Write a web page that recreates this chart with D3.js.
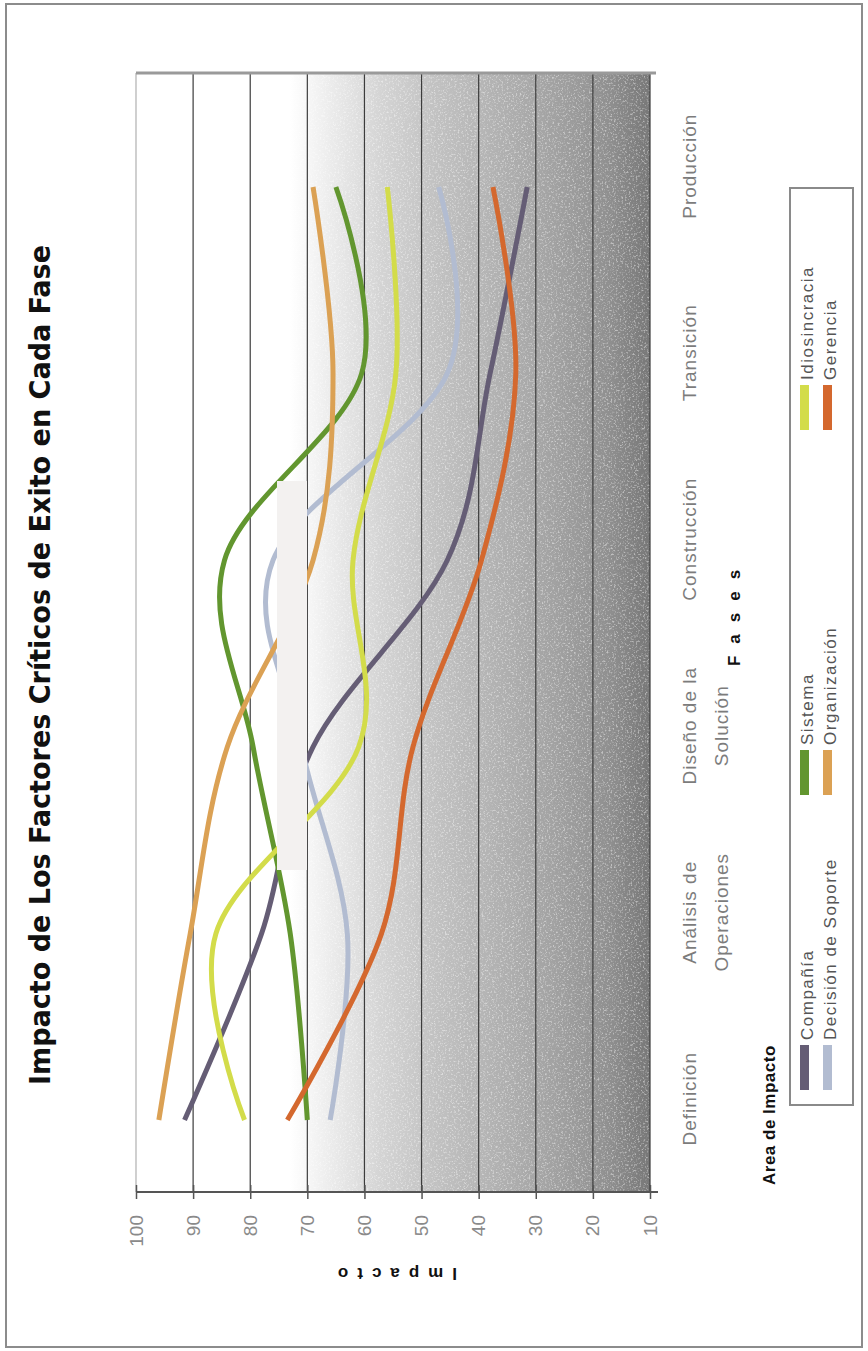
<!DOCTYPE html>
<html>
<head>
<meta charset="utf-8">
<script src="https://d3js.org/d3.v7.min.js"></script>
<style>
  body { margin: 0; background: #ffffff; }
  svg { display: block; font-family: "Liberation Sans", Arial, sans-serif; }
</style>
</head>
<body>
<script>
// ---- data ----
var categories = ["Definición", "Análisis de Operaciones", "Diseño de la Solución", "Construcción", "Transición", "Producción"];
var categoryLines = [["Definición"], ["Análisis de", "Operaciones"], ["Diseño de la", "Solución"], ["Construcción"], ["Transición"], ["Producción"]];
var seriesNames = ["Compañía", "Decisión de Soporte", "Sistema", "Organización", "Idiosincracia", "Gerencia"];
var compania      = [91.5, 78, 69, 45.5, 38, 31.5];
var decision      = [66, 63, 71, 76, 45.5, 47];
var sistema       = [70, 73, 79.5, 84.5, 60.5, 65];
var organizacion  = [96, 90.5, 84, 69, 65.5, 69];
var idiosincracia = [81, 86, 61, 62, 54.5, 56];
var gerencia      = [73.5, 57, 51.5, 39.5, 33.5, 37.5];
var impactTicks = [100, 90, 80, 70, 60, 50, 40, 30, 20, 10];
var seriesColors = ["#655d75", "#b2bcd1", "#62962f", "#dba154", "#d3dc4a", "#d4682e"];

var allSeries = [compania, decision, sistema, organizacion, idiosincracia, gerencia];

var W = 868, H = 1351;
var svg = d3.select("body").append("svg").attr("width", W).attr("height", H);

var defs = svg.append("defs");
var grad = defs.append("linearGradient").attr("id", "bg")
    .attr("gradientUnits", "userSpaceOnUse")
    .attr("x1", 0).attr("y1", 136).attr("x2", 0).attr("y2", 650);
[[0, "#ffffff"], [0.30, "#ffffff"], [0.377, "#ececec"], [0.475, "#d4d4d4"], [0.572, "#c3c3c3"],
 [0.689, "#b3b3b3"], [0.805, "#a3a3a3"], [0.922, "#8f8f8f"], [1, "#777777"]].forEach(function(s) {
  grad.append("stop").attr("offset", s[0]).attr("stop-color", s[1]);
});
var flt = defs.append("filter").attr("id", "speckle").attr("x", 0).attr("y", 0).attr("width", 1).attr("height", 1);
flt.append("feTurbulence").attr("type", "fractalNoise").attr("baseFrequency", 0.55).attr("numOctaves", 2).attr("seed", 7);
flt.append("feColorMatrix").attr("type", "matrix")
   .attr("values", "0 0 0 0 1  0 0 0 0 1  0 0 0 0 1  4 0 0 0 -2.1");

// outer frame
svg.append("rect").attr("x", 6).attr("y", 4).attr("width", 856).attr("height", 1343)
   .attr("fill", "none").attr("stroke", "#8c8c8c").attr("stroke-width", 2);

// the chart is laid out normally, then turned a quarter turn counter-clockwise
var g = svg.append("g").attr("transform", "translate(0," + H + ") rotate(-90)");

var plotLeft = 159, plotRight = 1278, plotTop = 136, plotBottom = 650;
var x = d3.scalePoint().domain(categories).range([231, 1164]);
var band = d3.scaleBand().domain(categories).range([plotLeft, plotRight]);
var y = d3.scaleLinear().domain([10, 100]).range([plotBottom, plotTop]);

// plot background
g.append("rect").attr("x", plotLeft).attr("y", plotTop)
 .attr("width", plotRight - plotLeft).attr("height", plotBottom - plotTop)
 .attr("fill", "url(#bg)");
g.append("rect").attr("x", plotLeft).attr("y", plotTop)
 .attr("width", plotRight - plotLeft).attr("height", plotBottom - plotTop)
 .attr("filter", "url(#speckle)").attr("opacity", 0.45);

// gridlines
g.selectAll("line.grid").data(impactTicks).enter().append("line")
 .attr("class", "grid")
 .attr("x1", plotLeft).attr("x2", plotRight)
 .attr("y1", function(d) { return y(d); }).attr("y2", function(d) { return y(d); })
 .attr("stroke", function(d) { return d === 100 ? "#b0b0b0" : "#3c3c3c"; })
 .attr("stroke-width", 1.2);

// top border of plot
g.append("line").attr("x1", plotRight).attr("x2", plotRight)
 .attr("y1", plotTop).attr("y2", plotBottom + 6)
 .attr("stroke", "#9a9a9a").attr("stroke-width", 3);

// series
var line = d3.line()
  .x(function(d, i) { return x(categories[i]); })
  .y(function(d) { return y(d); })
  .curve(d3.curveCardinal.tension(0));

g.selectAll("path.series").data(allSeries).enter().append("path")
 .attr("class", "series")
 .attr("d", line)
 .attr("fill", "none")
 .attr("stroke", function(d, i) { return seriesColors[i]; })
 .attr("stroke-width", 5)
 .attr("stroke-linecap", "butt");

// value axis
var yAxis = g.append("g").attr("transform", "translate(" + plotLeft + ",0)")
  .call(d3.axisLeft(y).tickValues(impactTicks).tickSize(7).tickPadding(16));
yAxis.select(".domain").remove();
yAxis.selectAll(".tick line").attr("x1", 7).attr("x2", -7).attr("stroke", "#555").attr("stroke-width", 1.5);
yAxis.selectAll(".tick text")
  .attr("font-family", "'Liberation Sans', Arial, sans-serif")
  .attr("font-size", 19).attr("fill", "#8a8a8a");
g.append("line").attr("x1", plotLeft).attr("x2", plotLeft)
 .attr("y1", plotTop).attr("y2", plotBottom + 8)
 .attr("stroke", "#555").attr("stroke-width", 2);

// category axis
var xAxis = g.append("g").attr("transform", "translate(0," + plotBottom + ")")
  .call(d3.axisBottom(band).tickSize(0));
xAxis.select(".domain").remove();
xAxis.selectAll(".tick text").each(function(d, i) {
  var t = d3.select(this).text(null).attr("y", 0).attr("dy", null)
    .attr("font-family", "'Liberation Sans', Arial, sans-serif")
    .attr("font-size", 19).attr("fill", "#7c7c7c")
    .attr("letter-spacing", 1).attr("text-anchor", "middle");
  categoryLines[i].forEach(function(s, k) {
    t.append("tspan").attr("x", 0).attr("y", 46 + k * 32).text(s);
  });
});

// titles
g.append("text").attr("x", 686).attr("y", 50)
 .attr("text-anchor", "middle")
 .attr("font-family", "'Liberation Sans Narrow', 'DejaVu Sans Condensed', sans-serif")
 .attr("font-weight", "bold").attr("font-size", 28).attr("fill", "#111")
 .attr("textLength", 840).attr("lengthAdjust", "spacingAndGlyphs")
 .text("Impacto de Los Factores Críticos de Exito en Cada Fase");

g.append("text").attr("transform", "translate(83," + ((plotTop + plotBottom) / 2) + ") rotate(-90)")
 .attr("text-anchor", "middle").attr("font-weight", "bold").attr("font-size", 17)
 .attr("letter-spacing", 9).attr("fill", "#111").text("Impacto");

g.append("text").attr("x", 739).attr("y", 740)
 .attr("text-anchor", "middle").attr("font-weight", "bold").attr("font-size", 17)
 .attr("letter-spacing", 12).attr("fill", "#111").text("Fases");

// legend
g.append("text").attr("x", 166).attr("y", 775)
 .attr("font-weight", "bold").attr("font-size", 17).attr("letter-spacing", 0.5)
 .attr("fill", "#111").text("Area de Impacto");

var legend = g.append("g");
legend.append("rect").attr("x", 246).attr("y", 790).attr("width", 917).attr("height", 63)
 .attr("fill", "#ffffff").attr("stroke", "#8a8a8a").attr("stroke-width", 2);
var legendCols = [261, 556, 921], legendRows = [800, 823];
var item = legend.selectAll("g.item").data(seriesNames).enter().append("g")
 .attr("class", "item")
 .attr("transform", function(d, i) {
   return "translate(" + legendCols[Math.floor(i / 2)] + "," + legendRows[i % 2] + ")";
 });
item.append("rect").attr("width", 45).attr("height", 9)
 .attr("fill", function(d, i) { return seriesColors[i]; });
item.append("text").attr("x", 50).attr("y", 13)
 .attr("font-size", 17).attr("letter-spacing", 1.5).attr("fill", "#555")
 .text(function(d) { return d; });

// pale patch over the plot, as in the scanned picture
svg.append("rect").attr("x", 277).attr("y", 481).attr("width", 30).attr("height", 389)
   .attr("fill", "#f3f1f0");
</script>
</body>
</html>
